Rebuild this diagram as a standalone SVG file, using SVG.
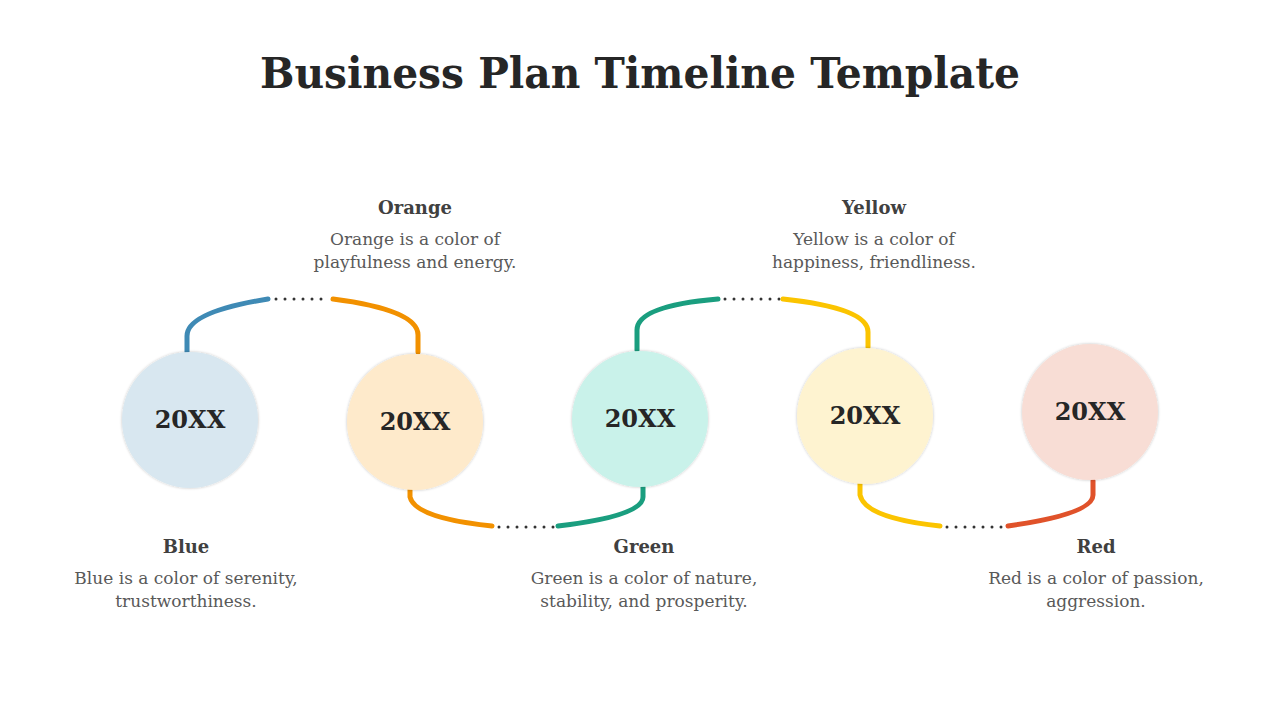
<svg xmlns="http://www.w3.org/2000/svg" width="1280" height="720" viewBox="0 0 1280 720">
<defs>
<style>
.t{font-family:"DejaVu Serif","Liberation Serif",serif;fill:#262626;font-weight:bold;text-anchor:middle}
.h{font-family:"DejaVu Serif","Liberation Serif",serif;fill:#404040;font-weight:bold;font-size:18px;text-anchor:middle}
.d{font-family:"DejaVu Serif","Liberation Serif",serif;fill:#595959;font-size:17px;text-anchor:middle}
.y{font-family:"DejaVu Serif","Liberation Serif",serif;fill:#262626;font-weight:bold;font-size:24px;text-anchor:middle}
.c{fill:none;stroke-width:5;stroke-linecap:round}
.dot{fill:none;stroke:#333;stroke-width:3;stroke-linecap:round;stroke-dasharray:0 9}
</style>
<filter id="s" x="-20%" y="-20%" width="140%" height="140%"><feGaussianBlur in="SourceAlpha" stdDeviation="1.5"/><feComponentTransfer><feFuncA type="linear" slope="0.25"/></feComponentTransfer><feMerge><feMergeNode/><feMergeNode in="SourceGraphic"/></feMerge></filter>
</defs>
<rect width="1280" height="720" fill="#fff"/>
<text class="t" x="640" y="88" font-size="42" textLength="760" lengthAdjust="spacingAndGlyphs">Business Plan Timeline Template</text>
<g id="connectors">
<path class="c" stroke="#3f8ab5" d="M187,352 V336 Q187,312 268,299"/>
<path class="dot" d="M276,299 H330"/>
<path class="c" stroke="#f29100" d="M333,299 Q418,310 418,335 V352"/>
<path class="c" stroke="#f29100" d="M410,490 V497 Q415,518 492,526"/>
<path class="dot" d="M499,527 H555"/>
<path class="c" stroke="#1a9e7f" d="M558,526 Q643,516 643,497 V487"/>
<path class="c" stroke="#1a9e7f" d="M637,350 V330 Q637,306 718,299"/>
<path class="dot" d="M725,299 H780"/>
<path class="c" stroke="#fbc400" d="M783,299 Q868,308 868,332 V347"/>
<path class="c" stroke="#fbc400" d="M860,484 V495 Q865,518 940,526"/>
<path class="dot" d="M947,527 H1004"/>
<path class="c" stroke="#e0522a" d="M1008,526 Q1093,514 1093,495 V481"/>
</g>
<g id="n1"><circle cx="190" cy="420" r="68" fill="#d8e7f0" filter="url(#s)"/><text class="y" x="190" y="428">20XX</text>
<text class="h" x="186" y="553">Blue</text><text class="d" x="186" y="584">Blue is a color of serenity,</text><text class="d" x="186" y="607">trustworthiness.</text></g>
<g id="n2"><circle cx="415" cy="422" r="68" fill="#feeacb" filter="url(#s)"/><text class="y" x="415" y="430">20XX</text>
<text class="h" x="415" y="214">Orange</text><text class="d" x="415" y="245">Orange is a color of</text><text class="d" x="415" y="268">playfulness and energy.</text></g>
<g id="n3"><circle cx="640" cy="419" r="68" fill="#c9f2ea" filter="url(#s)"/><text class="y" x="640" y="427">20XX</text>
<text class="h" x="644" y="553">Green</text><text class="d" x="644" y="584">Green is a color of nature,</text><text class="d" x="644" y="607">stability, and prosperity.</text></g>
<g id="n4"><circle cx="865" cy="416" r="68" fill="#fef3d0" filter="url(#s)"/><text class="y" x="865" y="424">20XX</text>
<text class="h" x="874" y="214">Yellow</text><text class="d" x="874" y="245">Yellow is a color of</text><text class="d" x="874" y="268">happiness, friendliness.</text></g>
<g id="n5"><circle cx="1090" cy="412" r="68" fill="#f8ddd5" filter="url(#s)"/><text class="y" x="1090" y="420">20XX</text>
<text class="h" x="1096" y="553">Red</text><text class="d" x="1096" y="584">Red is a color of passion,</text><text class="d" x="1096" y="607">aggression.</text></g>
</svg>
